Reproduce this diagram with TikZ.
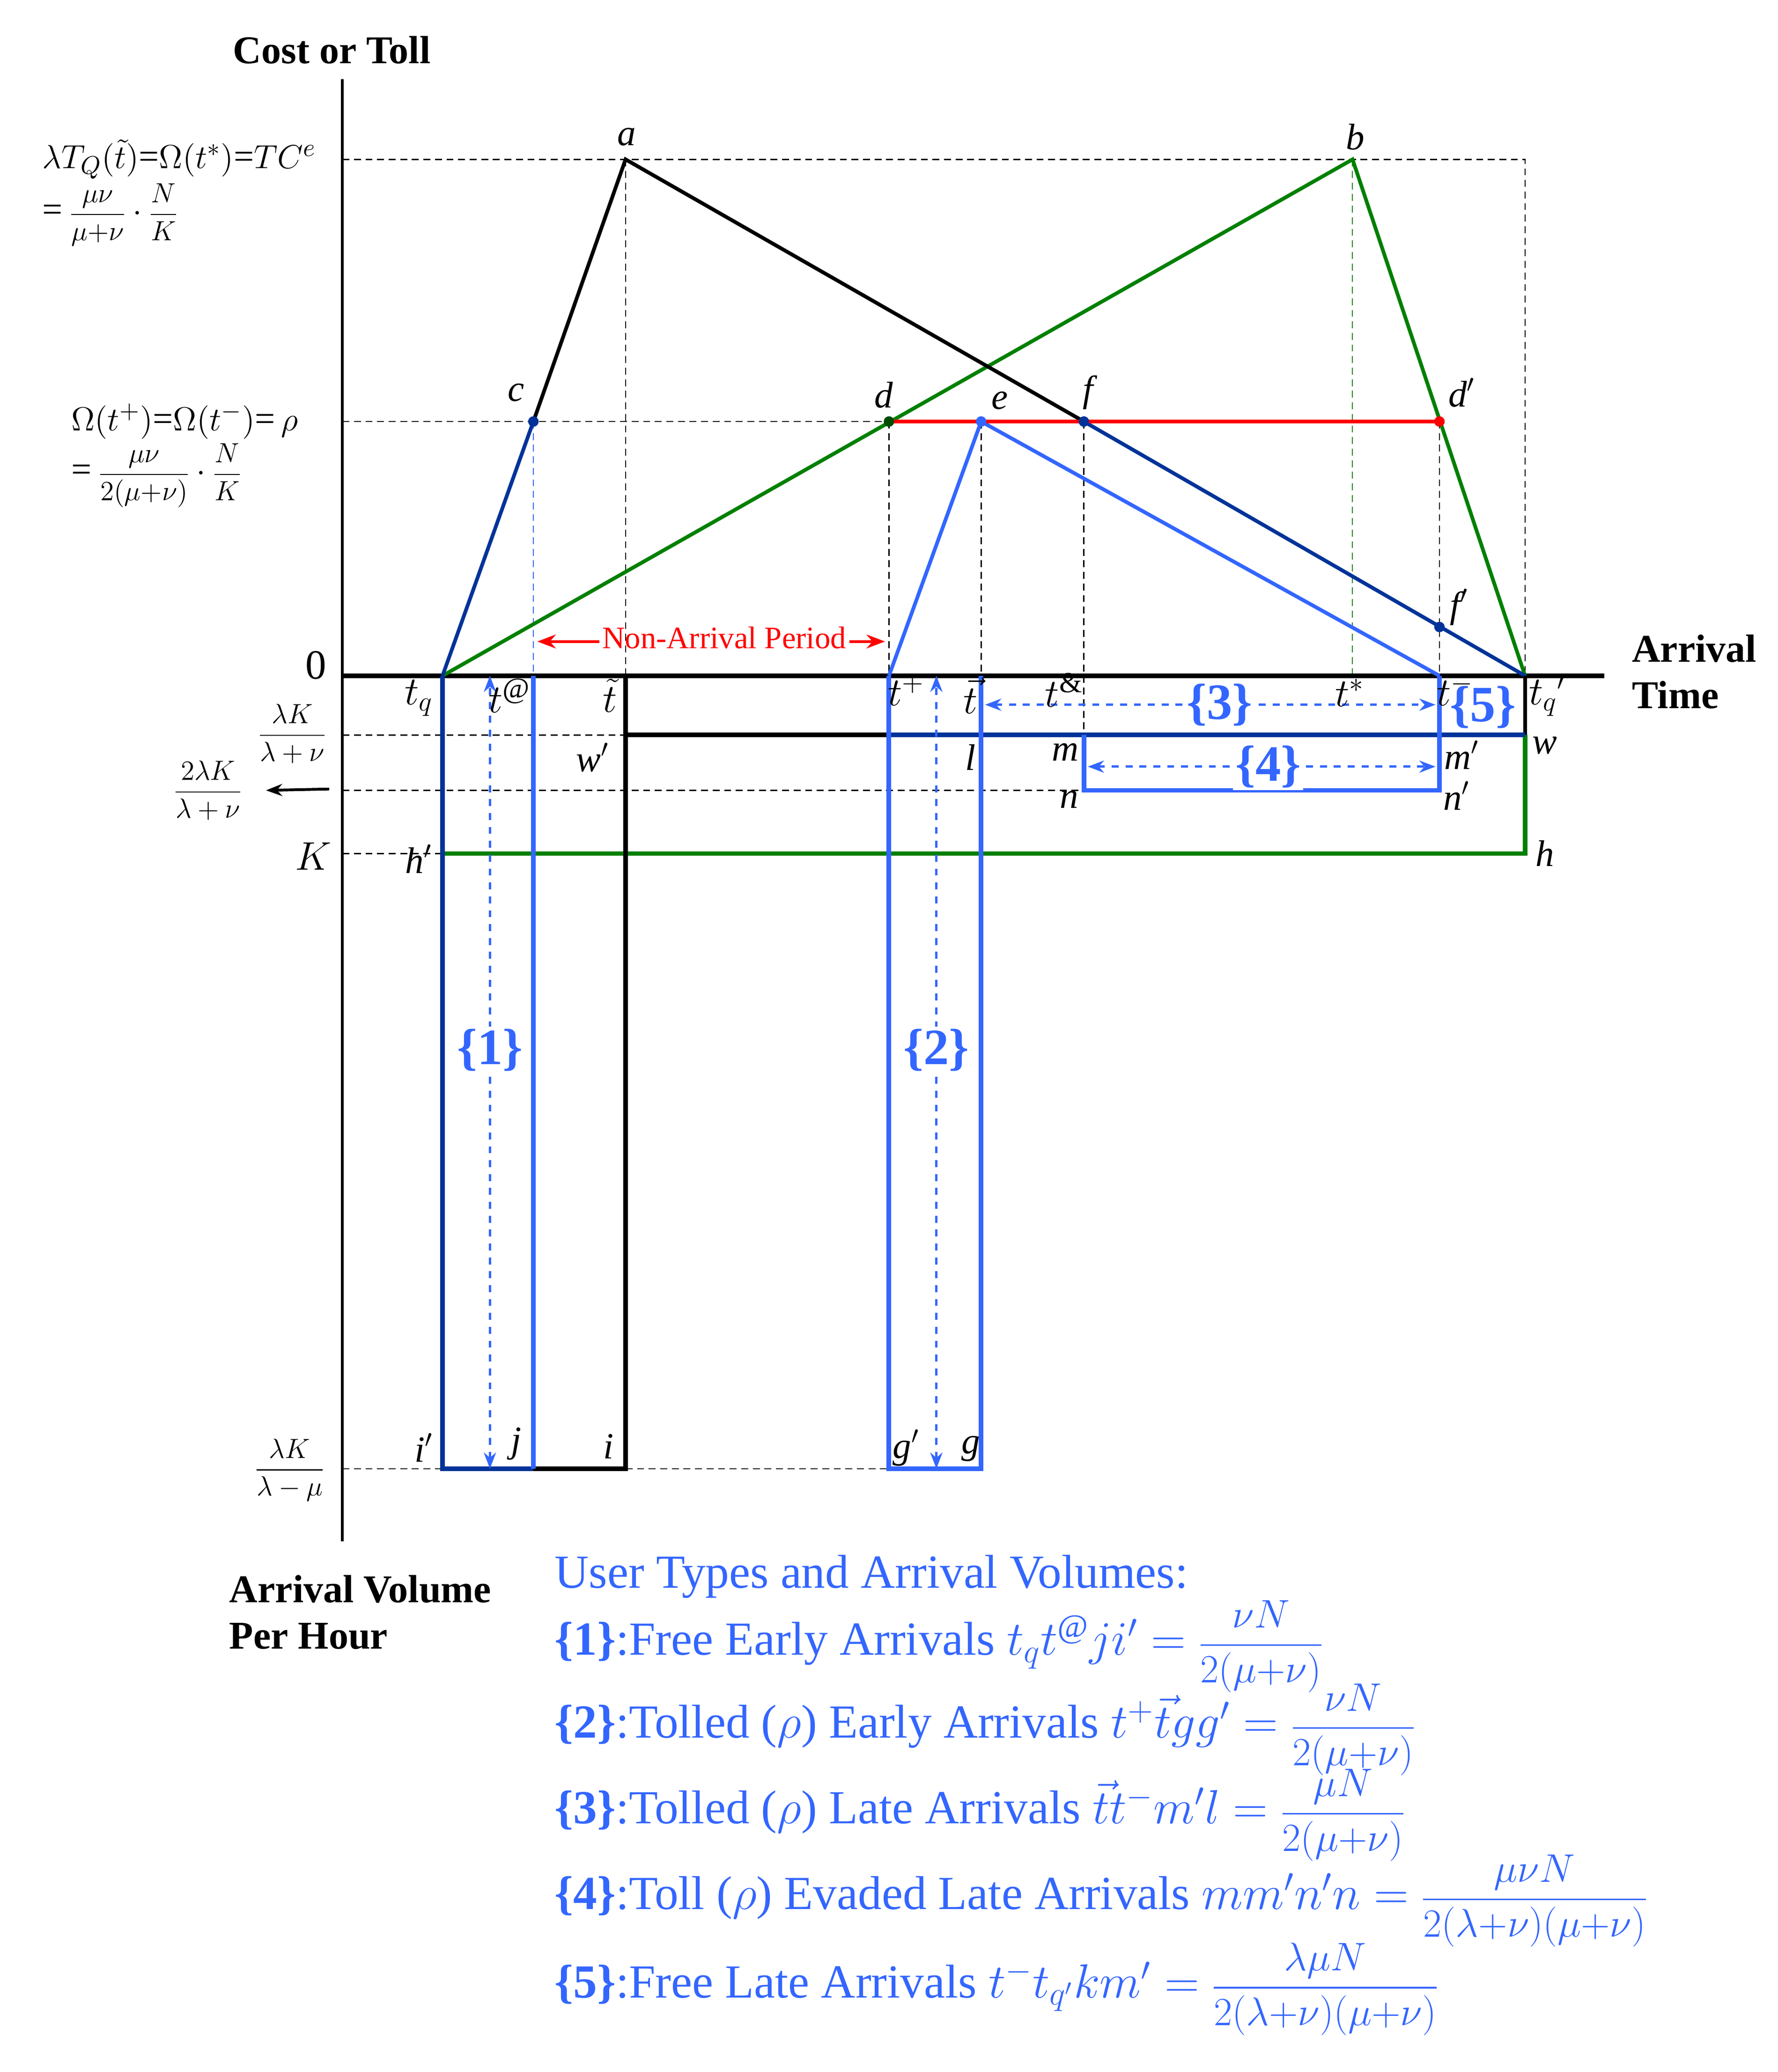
\documentclass[tikz,border=0pt]{standalone}
\usepackage{fontspec}
\setmainfont{Liberation Serif}
\usepackage{amsmath}
\usetikzlibrary{arrows.meta}
\definecolor{dblue}{RGB}{0,51,153}
\definecolor{lblue}{RGB}{51,102,255}
\definecolor{dgreen}{RGB}{0,128,0}
\newcommand{\lfr}[2]{{\fontsize{16}{18}\selectfont$\dfrac{#1}{#2}$}}
\newcommand{\sfr}[2]{{\fontsize{12}{14}\selectfont$\dfrac{#1}{#2}$}}
\tikzset{
  gd/.style={densely dashed,black,line width=0.5pt},
  thk/.style={line width=1.6pt},
  lbl/.style={font=\fontsize{16}{18}\selectfont\itshape},
  dotn/.style={circle,fill,inner sep=1.6pt},
  darr/.style={lblue,dashed,line width=1pt,{Stealth[length=7pt]}-{Stealth[length=7pt]}},
  brc/.style={lblue,font=\fontsize{22}{24}\selectfont\bfseries,fill=white,inner sep=1pt},
  leg/.style={lblue,anchor=west,font=\fontsize{20.5}{24}\selectfont},
  ttl/.style={font=\fontsize{17}{20}\selectfont\bfseries,align=left}
}
\begin{document}
\begin{tikzpicture}[x=0.02cm,y=-0.02cm]
\useasboundingbox (0,0) rectangle (1350,1573);
% coordinates
\coordinate (tq) at (336,513); \coordinate (ta) at (405,513); \coordinate (tt) at (475,513);
\coordinate (tp) at (675,513); \coordinate (tv) at (745,513); \coordinate (tand) at (823,513);
\coordinate (ts) at (1027,513); \coordinate (tm) at (1093,513); \coordinate (tqq) at (1158,513);
\coordinate (a) at (475,121); \coordinate (b) at (1027,121);
\coordinate (c) at (405,320); \coordinate (d) at (675,320); \coordinate (e) at (745,320);
\coordinate (f) at (823,320); \coordinate (dd) at (1093,320); \coordinate (ff) at (1093,476);
% guide dashed lines
\draw[gd] (260,121) -- (1158,121) -- (tqq);
\draw[gd] (a) -- (tt);
\draw[gd] (260,320) -- (d);
\draw[gd] (d) -- (tp); \draw[gd] (e) -- (tv); \draw[gd] (f) -- (823,558); \draw[gd] (dd) -- (tm);
\draw[densely dashed,dgreen] (b) -- (ts);
\draw[densely dashed,lblue] (c) -- (ta);
\draw[gd] (260,558) -- (475,558);
\draw[gd] (260,600) -- (823,600);
\draw[gd] (260,648) -- (336,648);
\draw[gd] (260,1115) -- (336,1115); \draw[gd] (475,1115) -- (675,1115);
% axes
\draw[line width=1.2pt] (260,60) -- (260,1170);
\draw[line width=2pt] (260,513) -- (1218,513);
% upper curves
\draw[dgreen,thk] (tq) -- (b) -- (tqq);
\draw[thk] (c) -- (a) -- (f);
\draw[dblue,thk] (tq) -- (c);
\draw[dblue,thk] (f) -- (tqq);
\draw[lblue,thk] (tp) -- (e) -- (tm);
\draw[red,thk] (d) -- (dd);
\foreach \p/\cc in {c/dblue,d/dgreen!60!black,e/lblue,f/dblue,dd/red,ff/dblue} \node[dotn,\cc] at (\p) {};
% lower boxes
\draw[dgreen,line width=2pt] (1158,558) -- (1158,648) -- (336,648);
\draw[line width=2pt] (475,558) -- (675,558);
\draw[line width=2pt] (tt) -- (475,1115) -- (405,1115);
\draw[line width=1.5pt] (tqq) -- (1158,558);
\draw[dblue,line width=2pt] (675,558) -- (1158,558);
\draw[dblue,line width=2pt] (tq) -- (336,1115) -- (405,1115);
\draw[lblue,line width=2pt] (ta) -- (405,1115);
\draw[lblue,line width=2pt] (tp) -- (675,1115) -- (745,1115) -- (tv);
\draw[lblue,line width=2pt] (823,558) -- (823,600) -- (1093,600) -- (1093,513);
% dashed arrows
\draw[lblue,dashed,line width=1pt,{Stealth[length=7pt]}-{Stealth[length=7pt]}] (372,1115) -- (372,513);
\node[brc] at (372,797) {\{1\}};
\draw[lblue,dashed,line width=1pt,{Stealth[length=7pt]}-{Stealth[length=7pt]}] (711,1115) -- (711,513);
\node[brc] at (711,797) {\{2\}};
\draw[darr] (748,535) -- (1090,535); \node[brc] at (926,535) {\{3\}};
\draw[darr] (826,582) -- (1090,582); \node[brc] at (963,582) {\{4\}};
\node[lblue,font=\fontsize{22}{24}\selectfont\bfseries,inner sep=0] at (1126,537) {\{5\}};
% non-arrival
\draw[red,line width=1.2pt,-{Stealth[length=8pt]}] (455,487) -- (408,487);
\draw[red,line width=1.2pt,-{Stealth[length=8pt]}] (645,487) -- (672,487);
\node[red,font=\fontsize{13.5}{16}\selectfont] at (550,484) {Non-Arrival Period};
% left arrow
\draw[line width=1.2pt,-{Stealth[length=7pt]}] (250,599) -- (202,600);
% point labels
\node[lbl] at (476,104) {a}; \node[lbl] at (1029,104) {b};
\node[lbl] at (392,298) {c}; \node[lbl] at (671,300) {d}; \node[lbl] at (759,304) {e};
\node[lbl] at (826,298) {f}; \node[lbl] at (1110,298) {d$'$}; \node[lbl] at (1108,461) {f$'$};
\node[lbl] at (450,575) {w$'$}; \node[lbl] at (737,575) {l}; \node[lbl] at (809,571) {m};
\node[lbl] at (1110,573) {m$'$}; \node[lbl] at (812,607) {n}; \node[lbl] at (1106,604) {n$'$};
\node[lbl] at (1173,566) {w}; \node[lbl] at (1173,648) {h}; \node[lbl] at (318,652) {h$'$};
\node[lbl] at (322,1099) {i$'$}; \node[lbl] at (392,1096) {j}; \node[lbl] at (462,1098) {i};
\node[lbl] at (688,1099) {g$'$}; \node[lbl] at (737,1100) {g};
% axis tick labels
\begin{scope}[font=\fontsize{18}{20}\selectfont]
\node at (318,530) {$t_q$}; \node at (387,528) {$t^{@}$}; \node at (463,528) {$\tilde t$};
\node at (688,524) {$t^{+}$}; \node at (737,528) {$\vec t$}; \node at (808,524) {$t^{\&}$};
\node at (1025,526) {$t^{*}$}; \node at (1105,524) {$t^{-}$}; \node at (1175,528) {$t_{q}{}'$};
\node at (240,505) {0};
\node at (238,650) {$K$};
\end{scope}
\node at (222,557) {\sfr{\lambda K}{\lambda+\nu}};
\node at (158,600) {\sfr{2\lambda K}{\lambda+\nu}};
\node at (220,1116) {\sfr{\lambda K}{\lambda-\mu}};
\node[anchor=west,font=\fontsize{15.5}{18}\selectfont] at (26,121) {$\lambda T_Q(\tilde t)$=$\Omega(t^{*})$=$TC^{e}$};
\node[anchor=west,font=\fontsize{15.5}{18}\selectfont] at (26,163) {=\,\sfr{\mu\nu}{\mu{+}\nu}\,$\cdot$\,\sfr{N}{K}};
\node[anchor=west,font=\fontsize{15.5}{18}\selectfont] at (48,320) {$\Omega(t^{+})$=$\Omega(t^{-})$=\,$\rho$};
\node[anchor=west,font=\fontsize{15.5}{18}\selectfont] at (48,361) {=\,\sfr{\mu\nu}{2(\mu{+}\nu)}\,$\cdot$\,\sfr{N}{K}};
\node[ttl] at (252,38) {Cost or Toll};
\node[ttl,anchor=west] at (1233,510) {Arrival\\Time};
\node[ttl,anchor=west] at (168,1224) {Arrival Volume\\Per Hour};
% legend
\node[leg] at (415,1197) {User Types and Arrival Volumes:};
\node[leg] at (415,1250) {\textbf{\{1\}}:Free Early Arrivals $t_q t^{@} j i' =$ \lfr{\nu N}{2(\mu{+}\nu)}};
\node[leg] at (415,1313) {\textbf{\{2\}}:Tolled ($\rho$) Early Arrivals $t^{+}\vec t g g' =$ \lfr{\nu N}{2(\mu{+}\nu)}};
\node[leg] at (415,1378) {\textbf{\{3\}}:Tolled ($\rho$) Late Arrivals $\vec t t^{-} m' l =$ \lfr{\mu N}{2(\mu{+}\nu)}};
\node[leg] at (415,1443) {\textbf{\{4\}}:Toll ($\rho$) Evaded Late Arrivals $m m' n' n =$ \lfr{\mu\nu N}{2(\lambda{+}\nu)(\mu{+}\nu)}};
\node[leg] at (415,1510) {\textbf{\{5\}}:Free Late Arrivals $t^{-} t_{q'} k m' =$ \lfr{\lambda\mu N}{2(\lambda{+}\nu)(\mu{+}\nu)}};
\end{tikzpicture}
\end{document}
